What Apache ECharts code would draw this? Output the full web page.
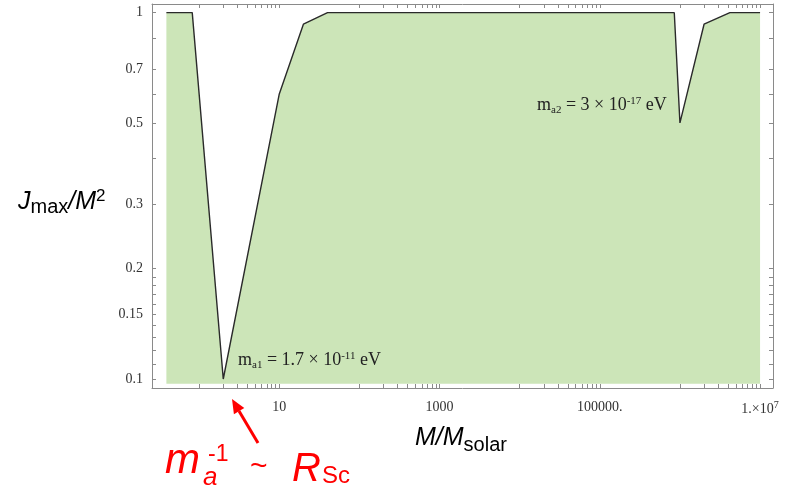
<!DOCTYPE html>
<html>
<head>
<meta charset="utf-8">
<script src="https://cdn.jsdelivr.net/npm/echarts@6/dist/echarts.min.js"></script>
<style>
html, body { margin: 0; padding: 0; background: #fff; }
#chart { width: 798px; height: 489px; }
</style>
</head>
<body>
<div id="chart"></div>
<script>
// M / M_solar at each corner of the curve
const massValues = [0.39, 0.82, 2, 10, 20, 40, 850000, 1000000, 2000000, 4200000, 10000000];
// J_max / M^2 at those masses
const spinValues = [1, 1, 0.1, 0.6, 0.93, 1, 1, 0.5, 0.93, 1, 1];

// tick labels
const xLabelValues = [10, 1000, 100000, 10000000];
const xLabelTexts = ['10', '1000', '100000.', '{n|1.×10}{e|7}'];
const yLabelValues = [0.1, 0.15, 0.2, 0.3, 0.5, 0.7, 1];
const yLabelTexts = ['0.1', '0.15', '0.2', '0.3', '0.5', '0.7', '1'];

// tick marks (major + minor)
const xTickValues = [
  1, 2, 3, 4, 5, 6, 7, 8, 9, 10,
  100, 200, 300, 400, 500, 600, 700, 800, 900, 1000,
  1e4, 2e4, 3e4, 4e4, 5e4, 6e4, 7e4, 8e4, 9e4, 1e5,
  1e6, 2e6, 3e6, 4e6, 5e6, 6e6, 7e6, 8e6, 9e6, 1e7
];
const yTickValues = [0.1, 0.11, 0.12, 0.13, 0.14, 0.15, 0.16, 0.17, 0.18, 0.19, 0.2, 0.3, 0.4, 0.5, 0.6, 0.7, 0.85, 1];

const X_MIN = 0.258, X_MAX = 1.45e7;
const Y_MIN = 0.0945, Y_MAX = 1.056;
const FILL_BASE = 0.097;

const frameColor = '#8a8a8a';
const serif = 'Liberation Serif';
const sans = 'Liberation Sans';

function pickLabel(v, values, texts) {
  let best = 0;
  values.forEach((lv, i) => {
    if (Math.abs(Math.log(v / lv)) < Math.abs(Math.log(v / values[best]))) best = i;
  });
  return texts[best];
}

function makeXAxis(pos, withLabels) {
  return {
    type: 'log', logBase: 10, position: pos, min: X_MIN, max: X_MAX,
    axisLine: { show: true, onZero: false, lineStyle: { color: frameColor, width: 1 } },
    axisTick: { show: true, inside: true, length: 4, customValues: xTickValues, lineStyle: { color: frameColor } },
    axisLabel: withLabels ? {
      show: true, customValues: xLabelValues, margin: 12,
      fontFamily: serif, fontSize: 14, color: '#333',
      formatter: v => pickLabel(v, xLabelValues, xLabelTexts),
      rich: {
        n: { fontFamily: serif, fontSize: 14, color: '#333', lineHeight: 18 },
        e: { fontFamily: serif, fontSize: 10, color: '#333', lineHeight: 14, verticalAlign: 'top' }
      }
    } : { show: false },
    splitLine: { show: false }
  };
}

function makeYAxis(pos, withLabels) {
  return {
    type: 'log', logBase: 10, position: pos, min: Y_MIN, max: Y_MAX,
    axisLine: { show: true, onZero: false, lineStyle: { color: frameColor, width: 1 } },
    axisTick: { show: true, inside: true, length: 4, customValues: yTickValues, lineStyle: { color: frameColor } },
    axisLabel: withLabels ? {
      show: true, customValues: yLabelValues, margin: 9,
      fontFamily: serif, fontSize: 14, color: '#333',
      formatter: v => pickLabel(v, yLabelValues, yLabelTexts)
    } : { show: false },
    splitLine: { show: false }
  };
}

const annoRich = {
  m: { fontFamily: serif, fontSize: 18, lineHeight: 20, fill: '#222' },
  t: { fontFamily: serif, fontSize: 18, lineHeight: 20, fill: '#222' },
  s: { fontFamily: serif, fontSize: 11, lineHeight: 10, verticalAlign: 'bottom', fill: '#222' },
  p: { fontFamily: serif, fontSize: 11, lineHeight: 12, verticalAlign: 'top', fill: '#222' }
};

const chart = echarts.init(document.getElementById('chart'));

const option = {
  backgroundColor: '#fff',
  animation: false,
  grid: { left: 152, right: 25, top: 4, bottom: 101, outerBoundsMode: 'none' },
  xAxis: [makeXAxis('bottom', true), makeXAxis('top', false)],
  yAxis: [makeYAxis('left', true), makeYAxis('right', false)],
  series: [{
    type: 'line',
    xAxisIndex: 0, yAxisIndex: 0,
    data: massValues.map((m, i) => [m, spinValues[i]]),
    symbol: 'none',
    lineStyle: { color: '#2a2a2a', width: 1.4 },
    areaStyle: { color: '#cce5b8', opacity: 1, origin: FILL_BASE }
  }],
  graphic: [
    // in-plot annotations
    {
      type: 'text', x: 238, y: 350.4, z: 100,
      style: { text: '{m|m}{s|a1}{t| = 1.7 × 10}{p|-11}{t| eV}', verticalAlign: 'top', rich: annoRich }
    },
    {
      type: 'text', x: 537, y: 95.4, z: 100,
      style: { text: '{m|m}{s|a2}{t| = 3 × 10}{p|-17}{t| eV}', verticalAlign: 'top', rich: annoRich }
    },
    // axis titles
    {
      type: 'text', x: 18, y: 187.5, z: 100,
      style: {
        text: '{j|J}{s|max}{j|/M}{p|2}',
        verticalAlign: 'top',
        rich: {
          j: { fontFamily: sans, fontSize: 25, fontStyle: 'italic', lineHeight: 30, fill: '#000' },
          s: { fontFamily: sans, fontSize: 20, lineHeight: 14, verticalAlign: 'bottom', fill: '#000' },
          p: { fontFamily: sans, fontSize: 17, lineHeight: 26, verticalAlign: 'top', fill: '#000' }
        }
      }
    },
    {
      type: 'text', x: 415, y: 421.5, z: 100,
      style: {
        text: '{j|M/M}{s|solar}',
        verticalAlign: 'top',
        rich: {
          j: { fontFamily: sans, fontSize: 25, fontStyle: 'italic', lineHeight: 34, fill: '#000' },
          s: { fontFamily: sans, fontSize: 20, lineHeight: 10, verticalAlign: 'bottom', fill: '#000' }
        }
      }
    },
    // red annotation: m_a^-1 ~ R_Sc
    { type: 'text', x: 165, y: 461, z: 100, style: { text: 'm', fontFamily: sans, fontSize: 42, fontStyle: 'italic', fill: '#ff0000', verticalAlign: 'middle' } },
    { type: 'text', x: 203, y: 478, z: 100, style: { text: 'a', fontFamily: sans, fontSize: 26, fontStyle: 'italic', fill: '#ff0000', verticalAlign: 'middle' } },
    { type: 'text', x: 208, y: 454.6, z: 100, style: { text: '-1', fontFamily: sans, fontSize: 23, fill: '#ff0000', verticalAlign: 'middle' } },
    { type: 'text', x: 250, y: 467, z: 100, style: { text: '~', fontFamily: sans, fontSize: 30, fill: '#ff0000', verticalAlign: 'middle' } },
    { type: 'text', x: 292, y: 470, z: 100, style: { text: 'R', fontFamily: sans, fontSize: 40, fontStyle: 'italic', fill: '#ff0000', verticalAlign: 'middle' } },
    { type: 'text', x: 322, y: 476.6, z: 100, style: { text: 'Sc', fontFamily: sans, fontSize: 24, fill: '#ff0000', verticalAlign: 'middle' } },
    // red arrow
    { type: 'polyline', z: 100, shape: { points: [[258, 443], [239, 411]] }, style: { stroke: '#ff0000', lineWidth: 3, fill: null } },
    { type: 'polygon', z: 100, shape: { points: [[232, 399], [244.3, 408], [233.9, 414.2]] }, style: { fill: '#ff0000' } }
  ]
};

chart.setOption(option);
</script>
</body>
</html>
